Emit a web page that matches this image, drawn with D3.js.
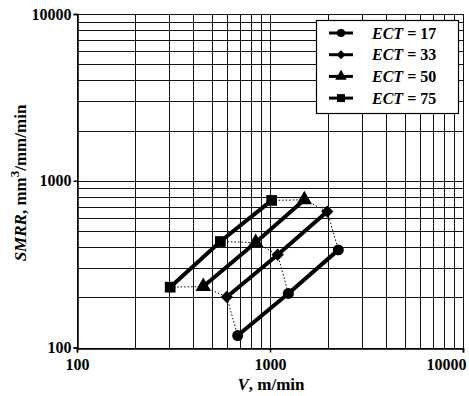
<!DOCTYPE html>
<html><head><meta charset="utf-8">
<script src="https://cdn.jsdelivr.net/npm/d3@7"></script>
<style>body{margin:0;background:#fff}svg{display:block}</style>
</head><body>
<script>
const ectLabels = ["17", "33", "50", "75"];
const symbols = ["circle", "diamond", "triangle", "square"];
const vECT17 = [680, 1245, 2260];
const sECT17 = [118, 211, 385];
const vECT33 = [597, 1096, 1980];
const sECT33 = [201, 360, 654];
const vECT50 = [451, 843, 1506];
const sECT50 = [232, 426, 769];
const vECT75 = [304, 553, 1020];
const sECT75 = [230, 432, 762];
const xTicks = [100, 1000, 10000];
const yTicks = [100, 1000, 10000];

const seriesV = [vECT17, vECT33, vECT50, vECT75];
const seriesS = [sECT17, sECT33, sECT50, sECT75];

const W = 469, H = 396;
const svg = d3.select("body").append("svg").attr("width", W).attr("height", H);
const x = d3.scaleLog().domain([100, 10000]).range([77, 463]);
const y = d3.scaleLog().domain([100, 10000]).range([347.5, 14]);
const font = "'Liberation Serif', 'Times New Roman', serif";

// grid
const minor = [];
for (let d = 100; d < 10000; d *= 10) for (let k = 1; k <= 10; k++) minor.push(d * k);
const gridVals = Array.from(new Set(minor));
const g = svg.append("g").attr("shape-rendering", "crispEdges");
g.selectAll("line.v").data(gridVals).enter().append("line")
  .attr("x1", d => Math.round(x(d)) + 0.5).attr("x2", d => Math.round(x(d)) + 0.5)
  .attr("y1", y(10000)).attr("y2", y(100)).attr("stroke", "#111").attr("stroke-width", 1);
g.selectAll("line.h").data(gridVals).enter().append("line")
  .attr("y1", d => Math.round(y(d)) + 0.5).attr("y2", d => Math.round(y(d)) + 0.5)
  .attr("x1", x(100)).attr("x2", x(10000)).attr("stroke", "#111").attr("stroke-width", 1);

// axes
const xAxis = d3.axisBottom(x).tickValues(xTicks).tickFormat(d3.format("d")).tickSize(4).tickPadding(4);
const yAxis = d3.axisLeft(y).tickValues(yTicks).tickFormat(d3.format("d")).tickSize(4).tickPadding(2);
const gx = svg.append("g").attr("transform", `translate(0,${Math.round(y(100)) + 0.5})`).call(xAxis);
const gy = svg.append("g").attr("transform", `translate(${Math.round(x(100)) + 0.5},0)`).call(yAxis);
[gx, gy].forEach(a => {
  a.selectAll("path,line").attr("stroke", "#000").attr("stroke-width", 1.5);
  a.selectAll("text").attr("font-family", font).attr("font-weight", "bold").attr("font-size", 16).attr("fill", "#000");
});
gx.selectAll("text").attr("dy", "0.85em");
gx.selectAll(".tick").filter(d => d === 10000).select("text").attr("text-anchor", "end").attr("x", 3);

// dotted connectors across series at each level
for (let i = 0; i < 3; i++) {
  const pts = [3, 2, 1, 0].map(s => [x(seriesV[s][i]), y(seriesS[s][i])]);
  svg.append("path").attr("d", d3.line()(pts)).attr("fill", "none")
    .attr("stroke", "#000").attr("stroke-width", 1).attr("stroke-dasharray", "1.5,2");
}

// series lines
const line = d3.line().x(d => x(d[0])).y(d => y(d[1]));
seriesV.forEach((vs, s) => {
  const pts = vs.map((v, i) => [v, seriesS[s][i]]);
  svg.append("path").attr("d", line(pts)).attr("fill", "none").attr("stroke", "#000").attr("stroke-width", 4);
});

function marker(sel, type, scale) {
  const sz = { circle: 95, diamond: 75, triangle: 105, square: 115 }[type] * scale;
  const sym = { circle: d3.symbolCircle, diamond: d3.symbolSquare, triangle: d3.symbolTriangle, square: d3.symbolSquare }[type];
  const p = sel.append("g");
  p.append("path").attr("d", d3.symbol(sym, sz)()).attr("fill", "#000")
    .attr("transform", type === "diamond" ? "rotate(45)" : null);
  return p;
}
seriesV.forEach((vs, s) => {
  vs.forEach((v, i) => {
    marker(svg, symbols[s], 1).attr("transform", `translate(${x(v)},${y(seriesS[s][i])})`);
  });
});

// legend
const lg = svg.append("g");
lg.append("rect").attr("x", 316.5).attr("y", 20.5).attr("width", 142).attr("height", 93)
  .attr("fill", "#fff").attr("stroke", "#000").attr("stroke-width", 1.2);
ectLabels.forEach((lab, i) => {
  const yy = 33 + i * 21.7;
  lg.append("line").attr("x1", 329).attr("x2", 353).attr("y1", yy).attr("y2", yy).attr("stroke", "#000").attr("stroke-width", 3);
  marker(lg, symbols[i], 0.55).attr("transform", `translate(341,${yy})`);
  const t = lg.append("text").attr("x", 372).attr("y", yy + 5.5).attr("font-family", font)
    .attr("font-weight", "bold").attr("font-size", 16);
  t.append("tspan").attr("font-style", "italic").text("ECT");
  t.append("tspan").text(" = " + lab);
});

// axis titles
const xt = svg.append("text").attr("x", 271).attr("y", 390).attr("text-anchor", "middle")
  .attr("font-family", font).attr("font-weight", "bold").attr("font-size", 17);
xt.append("tspan").attr("font-style", "italic").text("V");
xt.append("tspan").text(", m/min");

const yt = svg.append("text").attr("transform", "translate(26,183) rotate(-90)").attr("text-anchor", "middle")
  .attr("font-family", font).attr("font-weight", "bold").attr("font-size", 17);
yt.append("tspan").attr("font-style", "italic").text("SMRR");
yt.append("tspan").text(", mm");
yt.append("tspan").attr("dy", -7).attr("font-size", 13).text("3");
yt.append("tspan").attr("dy", 7).text("/mm/min");
</script>
</body></html>
